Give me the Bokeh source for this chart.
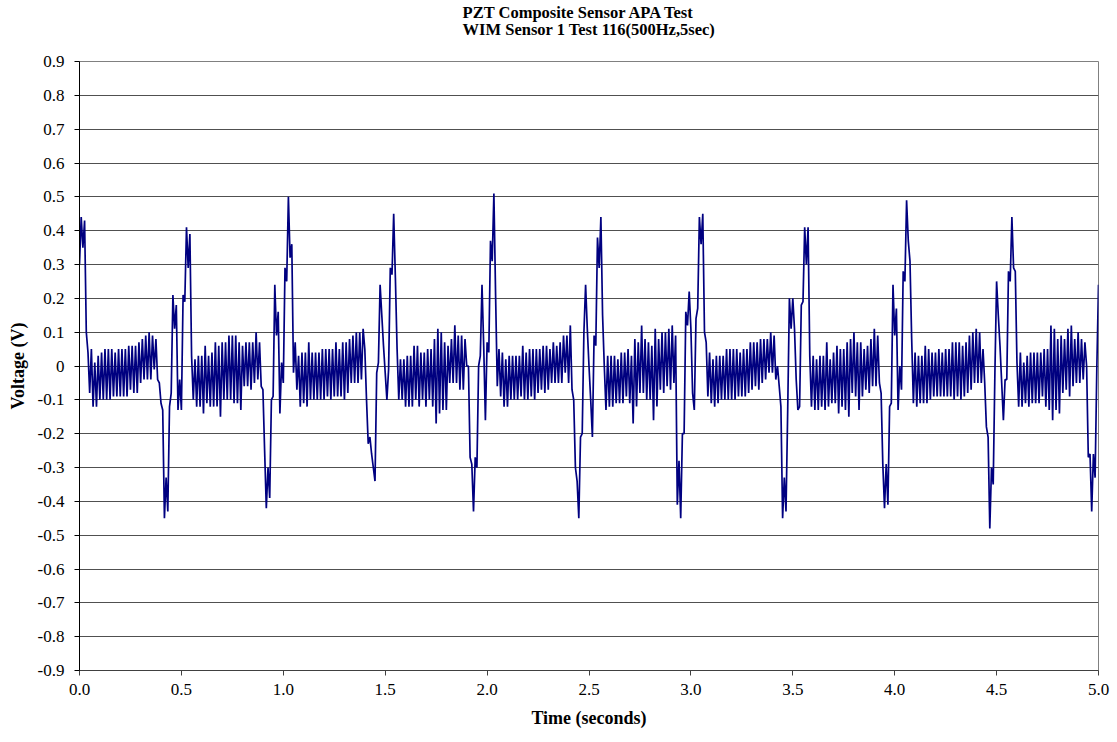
import numpy as np
from bokeh.plotting import figure
from bokeh.models import Title, FixedTicker, CustomJSTickFormatter, Range1d, ColumnDataSource
from bokeh.embed import file_html
from bokeh.resources import INLINE

# Voltage, one value per half cycle of the 60 Hz hum (120 values per second)
SAMPLES_PER_SECOND = 120

tail_0 = [0.30, 0.44, 0.35, 0.43, 0.10, 0.04]
hum_1 = [-0.08, 0.05, -0.12, 0.01, -0.12, 0.03, -0.10, 0.04, -0.10, 0.05, -0.10, 0.05, -0.10, 0.05,
         -0.09, 0.04, -0.09, 0.05, -0.09, 0.05, -0.09, 0.05, -0.09, 0.06, -0.07, 0.06, -0.08, 0.06,
         -0.08, 0.07, -0.05, 0.08, -0.04, 0.09, -0.04, 0.10, -0.04, 0.09, -0.01, 0.08, -0.04]
pulse_1 = [-0.05, -0.11, -0.13, -0.45, -0.33, -0.43, -0.12, -0.08, 0.21, 0.11, 0.18, -0.13, -0.04,
           -0.13, 0.21, 0.19, 0.41, 0.29, 0.39, 0.03]
hum_2 = [-0.10, 0.02, -0.12, 0.03, -0.12, 0.03, -0.14, 0.06, -0.11, 0.03, -0.12, 0.04, -0.12, 0.07,
         -0.12, 0.06, -0.15, 0.07, -0.10, 0.07, -0.10, 0.09, -0.10, 0.09, -0.11, 0.09, -0.11, 0.07,
         -0.13, 0.06, -0.06, 0.07, -0.06, 0.07, -0.07, 0.07, -0.05, 0.10, -0.04, 0.07, -0.06]
pulse_2 = [-0.07, -0.25, -0.42, -0.30, -0.39, -0.10, -0.09, 0.24, 0.09, 0.16, -0.14, 0.01, -0.05,
           0.29, 0.25, 0.50, 0.32, 0.36, -0.02, 0.07]
hum_3 = [-0.07, 0.03, -0.12, 0.04, -0.11, 0.04, -0.12, 0.07, -0.10, 0.04, -0.10, 0.04, -0.10, 0.04,
         -0.10, 0.05, -0.10, 0.05, -0.09, 0.05, -0.10, 0.05, -0.09, 0.07, -0.09, 0.05, -0.09, 0.07,
         -0.10, 0.07, -0.08, 0.08, -0.05, 0.09, -0.05, 0.10, -0.05, 0.10, -0.04, 0.11]
pulse_3 = [0.05, -0.10, -0.23, -0.21, -0.26, -0.30, -0.34, -0.02, 0.01, 0.24, 0.15, 0.06, -0.02,
           -0.10, -0.01, 0.29, 0.27, 0.45, 0.26, 0.05, -0.10]
hum_4 = [0.02, -0.10, 0.02, -0.12, 0.03, -0.12, 0.03, -0.12, 0.06, -0.10, 0.06, -0.12, 0.04, -0.10,
         0.04, -0.12, 0.05, -0.10, 0.05, -0.12, 0.08, -0.17, 0.11, -0.14, 0.10, -0.13, 0.07, -0.13,
         0.06, -0.05, 0.08, -0.05, 0.12, -0.05, 0.09, -0.07, 0.09, -0.07, 0.08, 0.00]
pulse_4 = [0.00, -0.27, -0.29, -0.43, -0.27, -0.30, 0.00, 0.03, 0.24, 0.06, -0.16, 0.07, 0.04, 0.37,
           0.31, 0.51, 0.21, -0.06]
hum_5 = [0.05, -0.09, 0.04, -0.12, 0.02, -0.12, 0.03, -0.10, 0.03, -0.10, 0.03, -0.10, 0.03, -0.09,
         0.06, -0.10, 0.04, -0.10, 0.05, -0.09, 0.05, -0.10, 0.05, -0.08, 0.05, -0.07, 0.06, -0.08,
         0.06, -0.07, 0.05, -0.05, 0.07, -0.05, 0.06, -0.05, 0.07, -0.05, 0.09, -0.02, 0.09, -0.05,
         0.12, -0.07]
pulse_5 = [-0.10, -0.30, -0.34, -0.45, -0.21, -0.20, 0.10, 0.24, 0.11, 0.00, -0.10, -0.21, 0.09,
           0.06, 0.38, 0.29, 0.44, 0.15, 0.00]
hum_6 = [-0.13, 0.03, -0.12, 0.03, -0.12, 0.03, -0.11, 0.02, -0.11, 0.04, -0.11, 0.04, -0.09, 0.05,
         -0.11, 0.03, -0.17, 0.08, -0.12, 0.07, -0.08, 0.12, -0.08, 0.08, -0.10, 0.07, -0.10, 0.06,
         -0.16, 0.11, -0.12, 0.08, -0.07, 0.10, -0.08, 0.10, -0.06, 0.11, -0.07, 0.12, -0.05]
pulse_6 = [0.09, -0.41, -0.28, -0.45, -0.20, -0.20, 0.16, 0.12, 0.22, 0.11, -0.08, -0.13, 0.14,
           0.17, 0.44, 0.36, 0.45, 0.10, 0.07]
hum_7 = [-0.09, 0.04, -0.11, 0.02, -0.12, 0.03, -0.11, 0.03, -0.10, 0.03, -0.10, 0.05, -0.10, 0.05,
         -0.10, 0.05, -0.10, 0.05, -0.09, 0.04, -0.09, 0.05, -0.09, 0.05, -0.08, 0.07, -0.07, 0.07,
         -0.06, 0.07, -0.07, 0.08, -0.05, 0.08, -0.04, 0.08, -0.02, 0.10, -0.02, 0.09, -0.04]
pulse_7 = [0.00, -0.06, -0.12, -0.45, -0.33, -0.43, -0.13, 0.20, 0.11, 0.20, 0.11, -0.04, -0.13,
           -0.12, 0.18, 0.19, 0.41, 0.30, 0.41, 0.03]
hum_8 = [-0.12, 0.03, -0.13, 0.02, -0.13, 0.03, -0.12, 0.03, -0.13, 0.07, -0.12, 0.02, -0.11, 0.04,
         -0.11, 0.06, -0.14, 0.05, -0.12, 0.05, -0.13, 0.07, -0.15, 0.08, -0.08, 0.10, -0.09, 0.07,
         -0.13, 0.07, -0.09, 0.05, -0.07, 0.06, -0.08, 0.08, -0.06, 0.11, -0.06, 0.09, -0.05]
pulse_8 = [-0.08, -0.29, -0.42, -0.29, -0.41, -0.12, -0.11, 0.24, 0.09, 0.17, -0.13, 0.00, -0.07,
           0.28, 0.25, 0.49, 0.37, 0.31, 0.08]
hum_9 = [-0.11, 0.04, -0.12, 0.03, -0.11, 0.03, -0.11, 0.06, -0.11, 0.05, -0.10, 0.04, -0.09, 0.04,
         -0.09, 0.05, -0.09, 0.04, -0.09, 0.05, -0.09, 0.05, -0.09, 0.07, -0.10, 0.07, -0.09, 0.07,
         -0.10, 0.06, -0.09, 0.07, -0.08, 0.09, -0.07, 0.10, -0.05, 0.11, -0.05, 0.10, -0.05]
pulse_9 = [0.05, -0.05, -0.18, -0.21, -0.48, -0.30, -0.35, -0.02, 0.25, 0.15, 0.06, -0.05, -0.16,
           -0.04, -0.04, 0.28, 0.25, 0.44, 0.29, 0.28, 0.01]
hum_10 = [-0.12, 0.04, -0.12, 0.01, -0.11, 0.03, -0.12, 0.04, -0.11, 0.04, -0.11, 0.04, -0.11, 0.04,
          -0.09, 0.05, -0.12, 0.05, -0.13, 0.12, -0.16, 0.11, -0.13, 0.08, -0.14, 0.09, -0.08, 0.08,
          -0.07, 0.11, -0.09, 0.12, -0.06, 0.08, -0.05, 0.10, -0.05, 0.08, -0.04, 0.07]
pulse_10 = [0.00, -0.27, -0.26, -0.43, -0.26, -0.33, -0.01, 0.24]

x_ticks = [0.0, 0.5, 1.0, 1.5, 2.0, 2.5, 3.0, 3.5, 4.0, 4.5, 5.0]
y_ticks = [-0.9, -0.8, -0.7, -0.6, -0.5, -0.4, -0.3, -0.2, -0.1, 0.0,
           0.1, 0.2, 0.3, 0.4, 0.5, 0.6, 0.7, 0.8, 0.9]

title_lines = ["PZT Composite Sensor APA Test", "WIM Sensor 1 Test 116(500Hz,5sec)"]
x_title = "Time (seconds)"
y_title = "Voltage (V)"

volts = (tail_0 + hum_1 + pulse_1 + hum_2 + pulse_2 + hum_3 + pulse_3 + hum_4 + pulse_4 + hum_5
         + pulse_5 + hum_6 + pulse_6 + hum_7 + pulse_7 + hum_8 + pulse_8 + hum_9 + pulse_9
         + hum_10 + pulse_10)
assert len(volts) == 601, len(volts)
seconds = np.arange(len(volts)) / SAMPLES_PER_SECOND

SERIF = "Liberation Serif"

p = figure(width=1117, height=742, output_backend="svg", toolbar_location=None,
           x_range=Range1d(0, 5), y_range=Range1d(-0.9, 0.9),
           min_border_left=79, min_border_right=19, min_border_top=61, min_border_bottom=72,
           background_fill_color="white", border_fill_color="white",
           outline_line_color="#808080", outline_line_width=1)

p.title = Title(text="\n".join(title_lines), align="center", vertical_align="bottom",
                text_font=SERIF, text_font_size="16.5px", text_font_style="bold",
                text_color="black", text_line_height=0.875, standoff=0,
                padding=dict(left=0, right=0, top=0, bottom=23))

src = ColumnDataSource(dict(t=seconds, v=volts))
p.line("t", "v", source=src, line_color="#000080", line_width=1.7)

p.xgrid.grid_line_color = None
p.ygrid.grid_line_color = "#505050"
p.ygrid.grid_line_width = 1

for ax in (p.xaxis[0], p.yaxis[0]):
    ax.major_label_text_font = SERIF
    ax.major_label_text_font_size = "17px"
    ax.major_label_text_color = "black"
    ax.axis_label_text_font = SERIF
    ax.axis_label_text_font_size = "18px"
    ax.axis_label_text_font_style = "bold"
    ax.axis_label_text_color = "black"
    ax.major_tick_in = 0
    ax.major_tick_out = 5
    ax.minor_tick_in = 0
    ax.minor_tick_out = 0

p.xaxis.ticker = FixedTicker(ticks=x_ticks)
p.xaxis.formatter = CustomJSTickFormatter(code="return tick.toFixed(1);")
p.xaxis.axis_label = x_title
p.xaxis.axis_line_color = "#404040"
p.xaxis.major_tick_line_color = "#404040"
p.xaxis.major_label_standoff = 8
p.xaxis.axis_label_standoff = 10

p.yaxis.ticker = FixedTicker(ticks=y_ticks)
p.yaxis.formatter = CustomJSTickFormatter(
    code="const v = Math.round(tick * 10) / 10; return v === 0 ? '0' : v.toFixed(1);")
p.yaxis.axis_label = y_title
p.yaxis.axis_line_color = "black"
p.yaxis.major_tick_line_color = "black"
p.yaxis.major_label_standoff = 10
p.yaxis.axis_label_standoff = 7

open("out.html", "w").write(file_html(p, INLINE))
